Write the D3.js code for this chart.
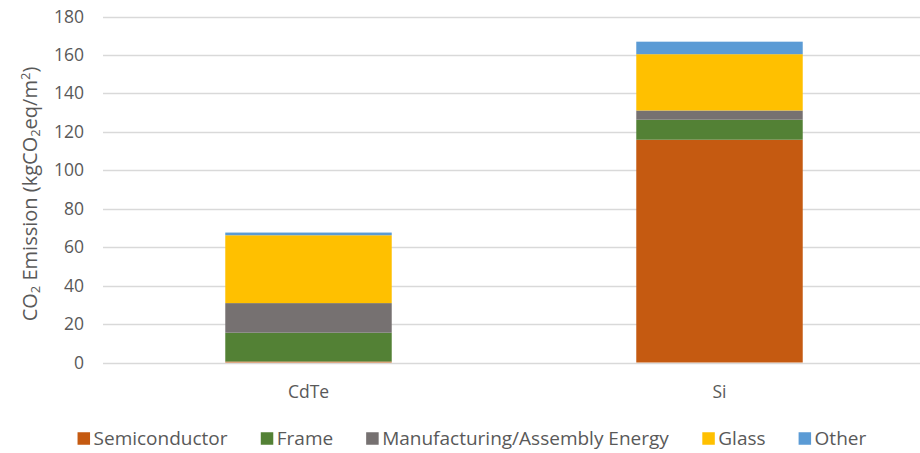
<!DOCTYPE html>
<html><head><meta charset="utf-8">
<script src="https://cdn.jsdelivr.net/npm/d3@7/dist/d3.min.js"></script>
<style>body{margin:0;background:#fff}svg{display:block}text{font-family:"Open Sans","Noto Sans",sans-serif;fill:#595959}</style>
</head><body><svg id="c" width="920" height="453"></svg>
<script>
const categories = ["CdTe", "Si"];
const seriesNames = ["Semiconductor", "Frame", "Manufacturing/Assembly Energy", "Glass", "Other"];
const semiconductor = [0.5, 115.9];
const frame = [15.0, 10.4];
const manufacturing = [15.4, 4.8];
const glass = [35.3, 29.3];
const other = [1.4, 6.5];
const yTicks = [0, 20, 40, 60, 80, 100, 120, 140, 160, 180];
const colors = ["#C55A11", "#538135", "#767171", "#FFC000", "#5B9BD5"];

const seriesValues = [semiconductor, frame, manufacturing, glass, other];
const rows = categories.map((c, i) => {
  const r = {cat: c};
  seriesNames.forEach((s, j) => r[s] = seriesValues[j][i]);
  return r;
});
const stack = d3.stack().keys(seriesNames)(rows);

const svg = d3.select("#c");
const x = d3.scaleBand().domain(categories).range([103, 925]).padding(0);
const y = d3.scaleLinear().domain([0, 180]).range([362.5, 16.5]);
const barW = x.bandwidth() * 0.405;
const FONT = '"Open Sans","Noto Sans",sans-serif';

// gridlines
svg.append("g").selectAll("line").data(yTicks).join("line")
  .attr("x1", 103).attr("x2", 925)
  .attr("y1", d => Math.round(y(d)) + 0.5).attr("y2", d => Math.round(y(d)) + 0.5)
  .attr("stroke", "#d9d9d9").attr("stroke-width", 1.3);

// y axis labels
const yAxis = d3.axisLeft(y).tickValues(yTicks).tickSize(0).tickPadding(0);
const gy = svg.append("g").attr("transform", "translate(84,0)").call(yAxis);
gy.select(".domain").remove();
gy.selectAll("text").style("font-size", "17.5px").attr("fill", "#595959").style("font-family", FONT);

// bars
svg.append("g").selectAll("g").data(stack).join("g")
  .attr("fill", (d, i) => colors[i])
  .selectAll("rect").data(d => d).join("rect")
  .attr("x", d => x(d.data.cat) + (x.bandwidth() - barW) / 2)
  .attr("width", barW)
  .attr("y", d => y(d[1]))
  .attr("height", d => y(d[0]) - y(d[1]));

// x axis labels
const xAxis = d3.axisBottom(x).tickSize(0).tickPadding(0);
const gx = svg.append("g").attr("transform", "translate(0,386)").call(xAxis);
gx.select(".domain").remove();
gx.selectAll("text").style("font-size", "17.5px").attr("fill", "#595959").style("font-family", FONT);

// y title
const yt = svg.append("text").attr("transform", "translate(37,194) rotate(-90)")
  .attr("text-anchor", "middle").style("font-size", "20px");
yt.append("tspan").text("CO");
yt.append("tspan").text("2").style("font-size", "13px").attr("dy", 3);
yt.append("tspan").text(" Emission (kgCO").attr("dy", -3);
yt.append("tspan").text("2").style("font-size", "13px").attr("dy", 3);
yt.append("tspan").text("eq/m").attr("dy", -3);
yt.append("tspan").text("2").style("font-size", "13px").attr("dy", -7);
yt.append("tspan").text(")").attr("dy", 7);

// legend
const lg = svg.append("g");
const items = lg.selectAll("g").data(seriesNames).join("g");
items.append("rect").attr("width", 12.5).attr("height", 12.5).attr("y", -6.25)
  .attr("fill", (d, i) => colors[i]);
items.append("text").attr("x", 16).attr("dy", "0.35em").style("font-size", "19px").text(d => d);
let pos = 0;
const widths = [];
items.each(function() { widths.push(this.getBBox().width); });
const gap = 33;
const total = d3.sum(widths) + gap * (widths.length - 1);
const start = 472 - total / 2;
items.attr("transform", (d, i) => {
  const t = `translate(${start + pos},438.5)`;
  pos += widths[i] + gap;
  return t;
});
</script></body></html>
